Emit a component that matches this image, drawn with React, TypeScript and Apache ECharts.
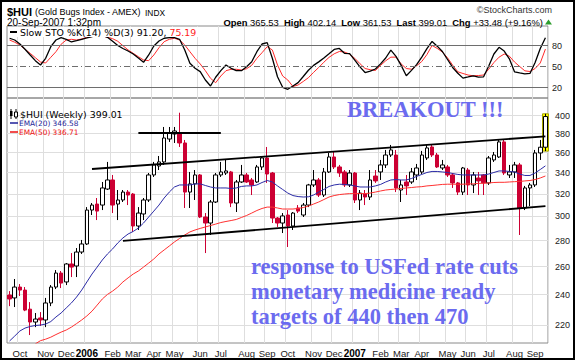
import React, { useEffect, useRef } from "react";
import * as echarts from "echarts";

// ---------- data ----------
const FIRST_WEEK = "2005-09-19";
const WEEK_COUNT = 105;
const weeks: string[] = Array.from({ length: WEEK_COUNT }, (_, i) =>
  new Date(Date.parse(FIRST_WEEK + "T00:00:00Z") + i * 7 * 86400000).toISOString().slice(0, 10)
);
const monthNames = ["Jan", "Feb", "Mar", "Apr", "May", "Jun", "Jul", "Aug", "Sep", "Oct", "Nov", "Dec"];
const priceTicks = [220, 240, 260, 280, 300, 320, 340, 360, 380, 400];
const stochTicks = [20, 50, 80];
const stochLevels = [20, 50, 80];

// weekly candles: [open, close, low, high]
const hui: number[][] = [
  [239.7, 237.0, 232.2, 242.4], [237.7, 245.2, 231.6, 250.9], [245.2, 243.1, 239.0, 247.3], [243.1, 229.6, 228.9, 245.2], [230.2, 221.9, 213.8, 234.9],
  [221.9, 223.8, 218.7, 227.7], [224.5, 223.2, 219.4, 228.3], [223.2, 234.3, 218.7, 237.7], [234.3, 245.2, 232.2, 246.6], [245.2, 255.2, 243.8, 257.4],
  [255.2, 248.0, 244.5, 256.7], [248.8, 261.9, 246.6, 262.6], [261.9, 259.6, 252.3, 270.2], [260.4, 271.0, 252.3, 274.1], [271.0, 277.3, 269.5, 280.5],
  [277.3, 305.5, 276.5, 308.1], [305.5, 309.9, 301.2, 311.7], [310.8, 304.6, 296.9, 316.2], [309.9, 325.4, 305.5, 331.0], [324.4, 332.9, 323.5, 350.5],
  [332.9, 309.9, 302.9, 337.7], [310.8, 314.4, 296.9, 323.5], [314.4, 321.6, 312.6, 323.5], [321.6, 318.9, 309.9, 323.5], [319.8, 291.9, 287.0, 320.7],
  [291.9, 302.9, 288.6, 308.1], [302.1, 314.4, 296.9, 316.2], [314.4, 337.7, 312.6, 339.6], [337.7, 347.5, 335.8, 350.5], [346.5, 350.5, 342.5, 356.5],
  [350.5, 375.3, 347.5, 387.3], [374.2, 380.7, 371.1, 387.3], [379.6, 382.9, 370.0, 387.3], [380.7, 370.0, 365.8, 403.4], [370.0, 321.6, 307.3, 373.2],
  [321.6, 329.2, 307.3, 340.6], [329.2, 337.7, 314.4, 342.5], [337.7, 299.5, 298.6, 338.6], [299.5, 294.4, 270.2, 302.9], [294.4, 312.6, 284.5, 314.4],
  [312.6, 337.7, 311.7, 339.6], [337.7, 340.6, 335.8, 350.5], [339.6, 341.6, 337.7, 352.5], [340.6, 311.7, 308.1, 341.6], [311.7, 331.0, 303.8, 332.9],
  [331.0, 337.7, 330.1, 347.5], [337.7, 331.0, 330.1, 339.6], [332.9, 328.2, 318.9, 334.8], [331.0, 345.5, 330.1, 347.5], [345.5, 354.5, 342.5, 355.5],
  [354.5, 338.6, 330.1, 365.8], [339.6, 298.6, 294.4, 340.6], [298.6, 294.4, 291.1, 299.5], [294.4, 300.4, 286.1, 302.9], [301.2, 291.9, 274.9, 305.5],
  [291.9, 302.9, 288.6, 303.8], [307.3, 304.6, 302.9, 309.9], [301.2, 309.9, 299.5, 311.7], [309.9, 328.2, 308.1, 329.2], [328.2, 332.9, 326.3, 342.5],
  [332.9, 318.9, 317.1, 334.8], [318.9, 340.6, 317.1, 344.5], [340.6, 355.5, 339.6, 359.6], [355.5, 345.5, 343.5, 360.6], [345.5, 339.6, 335.8, 347.5],
  [340.6, 328.2, 326.3, 342.5], [328.2, 339.6, 326.3, 342.5], [339.6, 314.4, 311.7, 340.6], [314.4, 320.7, 305.5, 323.5], [319.8, 317.1, 309.9, 323.5],
  [317.1, 332.9, 314.4, 342.5], [336.7, 332.0, 330.1, 342.5], [340.6, 347.5, 332.9, 352.5], [347.5, 357.5, 344.5, 362.7], [357.5, 362.7, 355.5, 367.9],
  [357.5, 325.4, 321.6, 362.7], [323.5, 328.2, 312.6, 332.9], [331.0, 327.3, 318.9, 337.7], [331.0, 340.6, 329.2, 344.5], [337.7, 344.5, 332.9, 348.5],
  [340.6, 357.5, 338.6, 361.7], [354.5, 364.8, 352.5, 367.9], [365.8, 357.5, 355.5, 367.9], [357.5, 345.5, 344.5, 359.6], [344.5, 347.5, 342.5, 352.5],
  [345.5, 337.7, 335.8, 347.5], [337.7, 330.1, 325.4, 339.6], [330.1, 321.6, 318.9, 331.0], [321.6, 344.5, 318.9, 345.5], [342.5, 328.2, 318.9, 344.5],
  [328.2, 337.7, 320.7, 340.6], [334.8, 332.0, 318.9, 340.6], [337.7, 330.1, 318.9, 338.6], [330.1, 354.5, 328.2, 356.5], [352.5, 357.5, 350.5, 360.6],
  [355.5, 371.1, 354.5, 373.2], [371.1, 339.6, 337.7, 373.2], [337.7, 340.6, 334.8, 347.5], [340.6, 347.5, 334.8, 350.5], [347.5, 307.3, 284.5, 349.5],
  [307.3, 325.4, 305.5, 327.3], [325.4, 328.2, 309.0, 330.1], [328.2, 359.6, 326.3, 362.7], [359.6, 365.53, 352.5, 373.2], [365.53, 399.01, 361.53, 402.14],
];

const ema20: (number | string)[] = [
  210.2, 213.2, 216.3, 218.1, 219.1, 219.7, 220.0, 220.6, 222.2, 225.1,
  227.7, 231.0, 234.3, 238.3, 243.1, 248.8, 254.5, 259.6, 264.9, 269.5,
  273.4, 278.1, 282.1, 285.3, 287.4, 290.2, 294.4, 299.5, 304.6, 309.9,
  316.2, 321.6, 326.3, 328.2, 328.2, 328.2, 329.2, 329.2, 327.7, 326.3,
  325.4, 325.4, 325.4, 324.9, 325.4, 326.8, 327.3, 327.3, 328.2, 330.5,
  332.4, 331.0, 327.3, 324.0, 320.7, 318.4, 317.5, 317.1, 317.3, 318.9,
  321.6, 324.0, 326.8, 328.2, 328.9, 328.7, 328.2, 327.3, 326.3, 326.3,
  326.3, 327.3, 328.7, 331.0, 332.9, 333.3, 332.9, 332.9, 334.3, 336.3,
  338.2, 340.1, 341.1, 341.1, 340.6, 340.1, 339.1, 338.2, 337.7, 337.7,
  337.7, 337.7, 337.7, 338.6, 340.1, 341.6, 341.6, 341.1, 340.6, 338.6,
  337.2, 337.2, 339.6, 343.0, 346.58,
];

const ema50: (number | string)[] = [
  "-", "-", "-", "-", "-", 208.5, 210.4, 211.3, 212.5, 214.1,
  215.6, 216.9, 218.7, 220.9, 223.2, 225.8, 228.9, 232.9, 237.0, 240.1,
  242.4, 245.2, 248.8, 251.7, 254.5, 256.7, 259.6, 262.6, 265.7, 269.5,
  272.6, 275.7, 278.9, 281.7, 284.5, 287.0, 288.6, 289.9, 291.1, 292.3,
  293.5, 294.8, 295.7, 296.5, 297.4, 299.1, 300.8, 302.9, 305.1, 306.9,
  308.1, 308.1, 307.3, 306.4, 306.4, 306.4, 306.9, 307.7, 309.0, 310.8,
  312.6, 314.8, 317.1, 318.4, 319.3, 319.8, 320.2, 320.2, 320.2, 320.2,
  320.7, 321.6, 322.6, 323.5, 324.0, 324.4, 324.9, 325.4, 325.8, 326.3,
  326.6, 327.3, 327.7, 328.2, 328.7, 328.9, 328.9, 328.9, 328.9, 329.2,
  329.2, 329.7, 329.8, 330.1, 330.5, 330.7, 330.7, 331.0, 331.3, 331.5,
  332.0, 332.4, 333.3, 334.8, 336.71,
];

const stochK: number[] = [
  90.6, 88.1, 82.4, 74.9, 66.7, 58.6, 52.4, 62.0, 78.6, 88.1,
  91.4, 89.1, 85.3, 87.1, 89.1, 91.0, 93.0, 95.0, 95.0, 92.0,
  86.3, 80.3, 76.0, 72.4, 68.1, 62.4, 56.3, 66.7, 79.6, 86.7,
  90.6, 91.4, 91.4, 89.1, 73.9, 54.9, 47.7, 42.9, 31.0, 22.4,
  34.9, 44.3, 52.4, 47.7, 44.3, 44.3, 50.0, 57.1, 71.4, 82.4,
  84.3, 62.0, 35.7, 20.6, 17.7, 22.4, 27.3, 36.0, 44.9, 51.9,
  56.9, 62.4, 68.4, 74.6, 76.1, 69.1, 68.7, 59.3, 49.7, 41.7,
  43.7, 46.7, 54.0, 62.4, 73.6, 64.7, 51.9, 37.0, 44.7, 52.9,
  63.7, 75.9, 86.1, 79.3, 71.7, 60.3, 48.9, 40.6, 33.7, 35.3,
  37.0, 35.0, 35.6, 50.9, 68.1, 77.7, 72.3, 61.3, 42.7, 41.1,
  39.7, 40.4, 56.0, 75.9, 91.2,
];

const stochD: number[] = [
  88.1, 84.9, 81.0, 74.9, 69.1, 62.9, 56.7, 55.3, 63.4, 71.4,
  82.0, 88.1, 89.1, 88.1, 89.6, 92.0, 93.0, 94.0, 94.0, 92.0,
  90.0, 86.3, 80.0, 73.9, 69.1, 64.3, 59.6, 58.6, 66.7, 77.1,
  85.7, 89.1, 90.6, 88.1, 81.0, 71.4, 62.0, 53.9, 44.3, 33.4,
  27.1, 36.7, 44.3, 46.3, 46.3, 45.3, 47.1, 52.0, 62.0, 70.0,
  78.6, 73.9, 52.4, 36.7, 31.0, 21.7, 23.9, 28.9, 34.3, 41.9,
  48.9, 56.4, 63.3, 68.4, 71.7, 71.0, 67.9, 61.9, 54.3, 47.4,
  45.7, 44.6, 51.9, 58.4, 63.6, 63.7, 53.9, 47.4, 46.4, 51.3,
  57.4, 67.3, 80.3, 76.1, 71.0, 62.7, 52.1, 42.7, 40.3, 38.1,
  37.0, 37.4, 38.1, 46.4, 55.9, 63.6, 68.1, 65.0, 56.7, 50.3,
  44.1, 43.1, 47.4, 55.3, 75.19,
];

// trend lines drawn by hand on the chart: [week index, price]
const upperChannel: [number, number][] = [[16, 343.5], [104, 377.1]];
const lowerChannel: [number, number][] = [[22, 279.7], [104, 308.9]];
const mayHighLine: [number, number][] = [[25, 380.5], [41, 380.5]];
const highlightWeek = 104;

// ---------- styling ----------
const SANS = '"Liberation Sans", Arial, sans-serif';
const VSANS = '"DejaVu Sans", Verdana, sans-serif';
const SERIF = '"Liberation Serif", "Times New Roman", serif';
const GRID_COLOR = "#dedede";
const NOTE_COLOR = "#6b6bef";

const isMonthStart = (i: number) => i > 0 && weeks[i].slice(5, 7) !== weeks[i - 1].slice(5, 7);
const monthLabel = (v: string) => {
  const m = +v.slice(5, 7);
  return m === 1 ? `{y|${v.slice(0, 4)}}` : monthNames[m - 1];
};
const seg = (pts: [number, number][]) => pts.map(([w, v]) => ({ coord: [weeks[w], v] }));

const buildOption = () => ({
  animation: false,
  backgroundColor: "#fff",
  textStyle: { fontFamily: SANS },
  grid: [
    { left: 7, top: 26, width: 541, height: 72, show: true, borderColor: "#8a8a8a", borderWidth: 1 },
    { left: 7, top: 98, width: 541, height: 245, show: true, borderColor: "#8a8a8a", borderWidth: 1 },
  ],
  xAxis: [
    {
      type: "category", gridIndex: 0, data: weeks, boundaryGap: true,
      axisLine: { show: false }, axisTick: { show: false }, axisLabel: { show: false },
      splitLine: { show: true, interval: (i: number) => isMonthStart(i), lineStyle: { color: GRID_COLOR, width: 1 } },
    },
    {
      type: "category", gridIndex: 1, data: weeks, boundaryGap: true,
      axisLine: { show: false }, axisTick: { show: false },
      axisLabel: {
        show: true, interval: (i: number) => isMonthStart(i), formatter: monthLabel,
        fontFamily: SANS, fontSize: 9.5, color: "#1a1a1a", margin: 5,
        rich: { y: { fontFamily: SANS, fontSize: 10, fontWeight: "bold", color: "#000" } },
      },
      splitLine: { show: true, interval: (i: number) => isMonthStart(i), lineStyle: { color: GRID_COLOR, width: 1 } },
    },
  ],
  yAxis: [
    {
      type: "value", gridIndex: 0, position: "right", min: 5.3, max: 108.1,
      axisLine: { show: false }, axisTick: { show: false, customValues: stochTicks },
      axisLabel: { customValues: stochTicks, fontFamily: SANS, fontSize: 9, color: "#222", margin: 4 },
      splitLine: { show: false },
    },
    {
      type: "log", gridIndex: 1, position: "right", min: 209, max: 420.7,
      axisLine: { show: false }, axisTick: { show: false, customValues: priceTicks },
      axisLabel: { customValues: priceTicks, fontFamily: SANS, fontSize: 9, color: "#222", margin: 7 },
      splitLine: { show: true, lineStyle: { color: GRID_COLOR, width: 1 } },
    },
  ],
  series: [
    {
      type: "line", name: "%D", xAxisIndex: 0, yAxisIndex: 0, data: stochD, symbol: "none", z: 2,
      lineStyle: { color: "#ff2a2a", width: 1 }, silent: true,
      markLine: {
        silent: true, symbol: ["none", "none"], label: { show: false }, animation: false,
        data: stochLevels.map((v) => ({
          yAxis: v,
          lineStyle: { color: "#6e6e6e", width: 1, type: v === 50 ? [6, 3, 1, 3] : "solid" },
        })),
      },
    },
    {
      type: "line", name: "%K", xAxisIndex: 0, yAxisIndex: 0, data: stochK, symbol: "none", z: 3,
      lineStyle: { color: "#000", width: 1.3 }, silent: true,
    },
    {
      type: "candlestick", name: "highlight", xAxisIndex: 1, yAxisIndex: 1, barWidth: 7, z: 1, silent: true,
      data: weeks.map((_, i) =>
        i === highlightWeek ? [hui[i][2], hui[i][3], hui[i][2], hui[i][3]] : "-"
      ),
      itemStyle: { color: "#ffff00", borderColor: "#a6a600", borderWidth: 1, color0: "#ffff00", borderColor0: "#a6a600" },
    },
    {
      type: "candlestick", name: "$HUI", xAxisIndex: 1, yAxisIndex: 1, data: hui, barWidth: 4, z: 2, silent: true,
      itemStyle: { color: "#ffffff", color0: "#cc0033", borderColor: "#000", borderColor0: "#cc0033", borderWidth: 1 },
      markLine: {
        silent: true, symbol: ["none", "none"], label: { show: false }, animation: false,
        lineStyle: { color: "#000", width: 1.8, type: "solid" },
        data: [seg(upperChannel), seg(lowerChannel), seg(mayHighLine)],
      },
    },
    {
      type: "line", name: "EMA(20)", xAxisIndex: 1, yAxisIndex: 1, data: ema20, symbol: "none", z: 3,
      lineStyle: { color: "#2b2ba6", width: 1 }, silent: true,
    },
    {
      type: "line", name: "EMA(50)", xAxisIndex: 1, yAxisIndex: 1, data: ema50, symbol: "none", z: 3,
      lineStyle: { color: "#ff3030", width: 1 }, silent: true,
    },
  ],
  graphic: [
    { type: "rect", z: 100, silent: true, shape: { x: 1, y: 1, width: 573, height: 358 }, style: { fill: "none", stroke: "#000", lineWidth: 2 } },
    { type: "text", z: 100, x: 7, y: 11.5, style: { text: "$HUI", font: `bold 11px ${SANS}`, fill: "#000", verticalAlign: "middle" } },
    { type: "text", z: 100, x: 35, y: 12, style: { text: "(Gold Bugs Index - AMEX)", font: `9px ${SANS}`, fill: "#000", verticalAlign: "middle" } },
    { type: "text", z: 100, x: 145, y: 12.5, style: { text: "INDX", font: `8.4px ${SANS}`, fill: "#000", verticalAlign: "middle" } },
    { type: "text", z: 100, x: 7, y: 22, style: { text: "20-Sep-2007 1:32pm", font: `10px ${SANS}`, fill: "#000", verticalAlign: "middle" } },
    { type: "text", z: 100, x: 552, y: 10, style: { text: "\u00A9StockCharts.com", font: `9px ${SANS}`, fill: "#333", align: "right", verticalAlign: "middle" } },
    {
      type: "text", z: 100, x: 543, y: 22,
      style: {
        text: "{b|Open} 365.53  {b|High} 402.14  {b|Low} 361.53  {b|Last} 399.01  {b|Chg} +33.48 (+9.16%)",
        font: `9.4px ${SANS}`, fill: "#000", align: "right", verticalAlign: "middle",
        rich: { b: { fontFamily: SANS, fontSize: 9.4, fontWeight: "bold", fill: "#000" } },
      },
    },
    { type: "polygon", z: 100, shape: { points: [[545, 24.5], [552, 24.5], [548.5, 19.5]] }, style: { fill: "#2e9e2e" } },
    // stochastic legend
    { type: "rect", z: 50, silent: true, shape: { x: 8, y: 27, width: 193, height: 10 }, style: { fill: "#fff" } },
    { type: "line", z: 51, shape: { x1: 10, y1: 32, x2: 17, y2: 32 }, style: { stroke: "#000", lineWidth: 2 } },
    {
      type: "text", z: 51, x: 20, y: 32,
      style: {
        text: "{k|Slow STO %K(14) %D(3) 91.20, }{d|75.19}", verticalAlign: "middle",
        rich: {
          k: { fontFamily: VSANS, fontSize: 9.4, fill: "#000" },
          d: { fontFamily: VSANS, fontSize: 9.4, fill: "#ff1a1a" },
        },
      },
    },
    // price legend
    { type: "line", z: 51, shape: { x1: 11, y1: 109, x2: 11, y2: 119 }, style: { stroke: "#000", lineWidth: 1 } },
    { type: "rect", z: 51, shape: { x: 10, y: 111, width: 2.5, height: 5 }, style: { fill: "#000" } },
    { type: "line", z: 51, shape: { x1: 16, y1: 109, x2: 16, y2: 119 }, style: { stroke: "#000", lineWidth: 1 } },
    { type: "rect", z: 52, shape: { x: 14.5, y: 112, width: 3, height: 5 }, style: { fill: "#fff", stroke: "#000", lineWidth: 1 } },
    { type: "text", z: 51, x: 20, y: 114, style: { text: "$HUI (Weekly) 399.01", font: `9.4px ${VSANS}`, fill: "#000", verticalAlign: "middle" } },
    { type: "line", z: 51, shape: { x1: 10, y1: 123, x2: 18, y2: 123 }, style: { stroke: "#1f1f99", lineWidth: 1.5 } },
    { type: "text", z: 51, x: 19, y: 123, style: { text: "EMA(20) 346.58", font: `7.4px ${VSANS}`, fill: "#1f1f99", verticalAlign: "middle" } },
    { type: "line", z: 51, shape: { x1: 10, y1: 132, x2: 18, y2: 132 }, style: { stroke: "#ee1111", lineWidth: 1.5 } },
    { type: "text", z: 51, x: 19, y: 132, style: { text: "EMA(50) 336.71", font: `7.4px ${VSANS}`, fill: "#ee1111", verticalAlign: "middle" } },
    // annotations
    { type: "text", z: 60, x: 347, y: 109.3, style: { text: "BREAKOUT !!!", font: `bold 22.5px ${SERIF}`, fill: NOTE_COLOR, verticalAlign: "middle" } },
    { type: "text", z: 60, x: 251, y: 266, style: { text: "response to USFed rate cuts", font: `bold 22.5px ${SERIF}`, fill: NOTE_COLOR, verticalAlign: "middle" } },
    { type: "text", z: 60, x: 251, y: 291, style: { text: "monetary medicine ready", font: `bold 22.5px ${SERIF}`, fill: NOTE_COLOR, verticalAlign: "middle" } },
    { type: "text", z: 60, x: 251, y: 316, style: { text: "targets of 440 then 470", font: `bold 22.5px ${SERIF}`, fill: NOTE_COLOR, verticalAlign: "middle" } },
  ],
});

export default function App() {
  const ref = useRef<HTMLDivElement>(null);
  useEffect(() => {
    if (!ref.current) return;
    const chart = echarts.init(ref.current, null, { renderer: "svg" });
    chart.setOption(buildOption() as any);
    return () => chart.dispose();
  }, []);
  return (
    <div
      ref={ref}
      style={{ position: "absolute", left: 0, top: 0, width: 575, height: 360, background: "#fff" }}
    />
  );
}
